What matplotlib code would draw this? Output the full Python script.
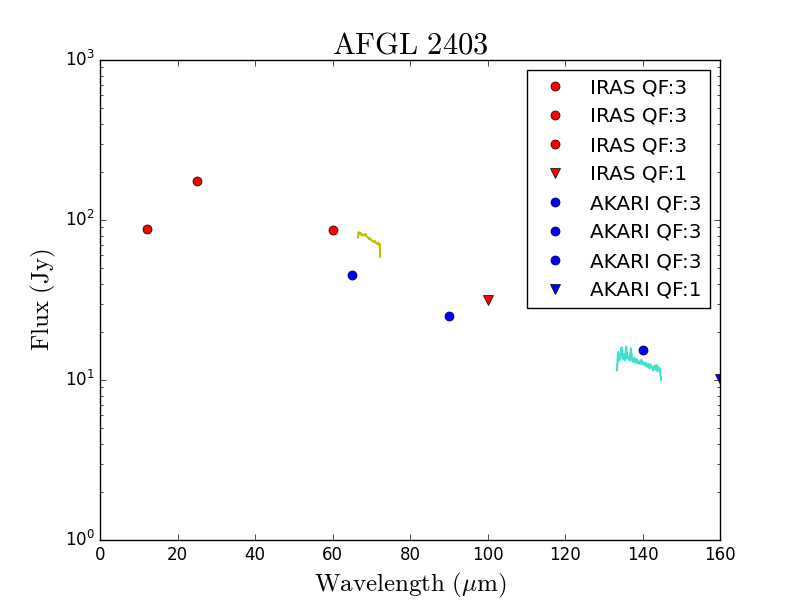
import matplotlib
matplotlib.use("Agg")
import matplotlib.pyplot as plt

plt.style.use("classic")
plt.rcParams["mathtext.fontset"] = "cm"

# photometry (wavelength in micron, flux in Jy)
iras_wl = [12, 25, 60, 100]
iras_flux = [88, 176, 87, 31.4]
iras_qf = [3, 3, 3, 1]

akari_wl = [65, 90, 140, 160]
akari_flux = [45, 25, 15.5, 10.1]
akari_qf = [3, 3, 3, 1]

# spectra
spec1_wl = [66.6, 66.7, 67.0, 67.3, 67.6, 67.9, 68.2, 68.5, 68.8, 69.1, 69.4,
            69.7, 70.0, 70.3, 70.6, 70.9, 71.2, 71.5, 71.8, 72.0, 72.2, 72.3]
spec1_flux = [78, 84, 82, 83, 80, 81, 80, 82, 79, 78, 76,
              77, 75, 74, 73, 74, 72, 71, 72, 70, 71, 59]

spec2_wl = [133.4, 133.7, 134.0, 134.3, 134.6, 134.9, 135.2, 135.5, 135.8,
            136.1, 136.4, 136.7, 137.0, 137.3, 137.6, 137.9, 138.2, 138.5,
            138.8, 139.1, 139.4, 139.7, 140.0, 140.3, 140.6, 140.9, 141.2,
            141.5, 141.8, 142.1, 142.4, 142.7, 143.0, 143.3, 143.6, 143.9,
            144.2, 144.5, 144.8]
spec2_flux = [11.5, 15.0, 13.2, 14.2, 16.0, 13.5, 14.6, 13.3, 16.2,
              13.6, 14.0, 13.2, 15.8, 13.4, 13.0, 13.8, 12.8, 13.5,
              12.7, 13.1, 12.6, 13.4, 12.5, 12.9, 12.3, 12.8, 12.1,
              12.6, 11.8, 12.5, 12.0, 11.5, 12.3, 11.6, 12.4, 11.3,
              12.0, 11.7, 10.0]

fig = plt.figure(figsize=(8, 6), dpi=100)
ax = fig.add_subplot(111)

for wl, fl, qf in zip(iras_wl, iras_flux, iras_qf):
    m = "o" if qf == 3 else "v"
    ax.plot([wl], [fl], m, color="r", mec="k", mew=0.5, ms=6.5,
            label="IRAS QF:%d" % qf)
for wl, fl, qf in zip(akari_wl, akari_flux, akari_qf):
    m = "o" if qf == 3 else "v"
    ax.plot([wl], [fl], m, color="b", mec="k", mew=0.5, ms=6.5,
            label="AKARI QF:%d" % qf)

ax.plot(spec1_wl, spec1_flux, "-", color="y", lw=1.5)
ax.plot(spec2_wl, spec2_flux, "-", color="turquoise", lw=1.5)

ax.set_yscale("log")
ax.set_xlim(0, 160)
ax.set_ylim(1, 1000)

ax.set_title(r"$\mathrm{AFGL\ 2403}$", fontsize=22)
ax.set_xlabel(r"$\mathrm{Wavelength\ (\mu m)}$", fontsize=18)
ax.set_ylabel(r"$\mathrm{Flux\ (Jy)}$", fontsize=18)

ax.legend(loc="upper right", numpoints=1, fontsize="large")

fig.savefig("out.png", dpi=100)
